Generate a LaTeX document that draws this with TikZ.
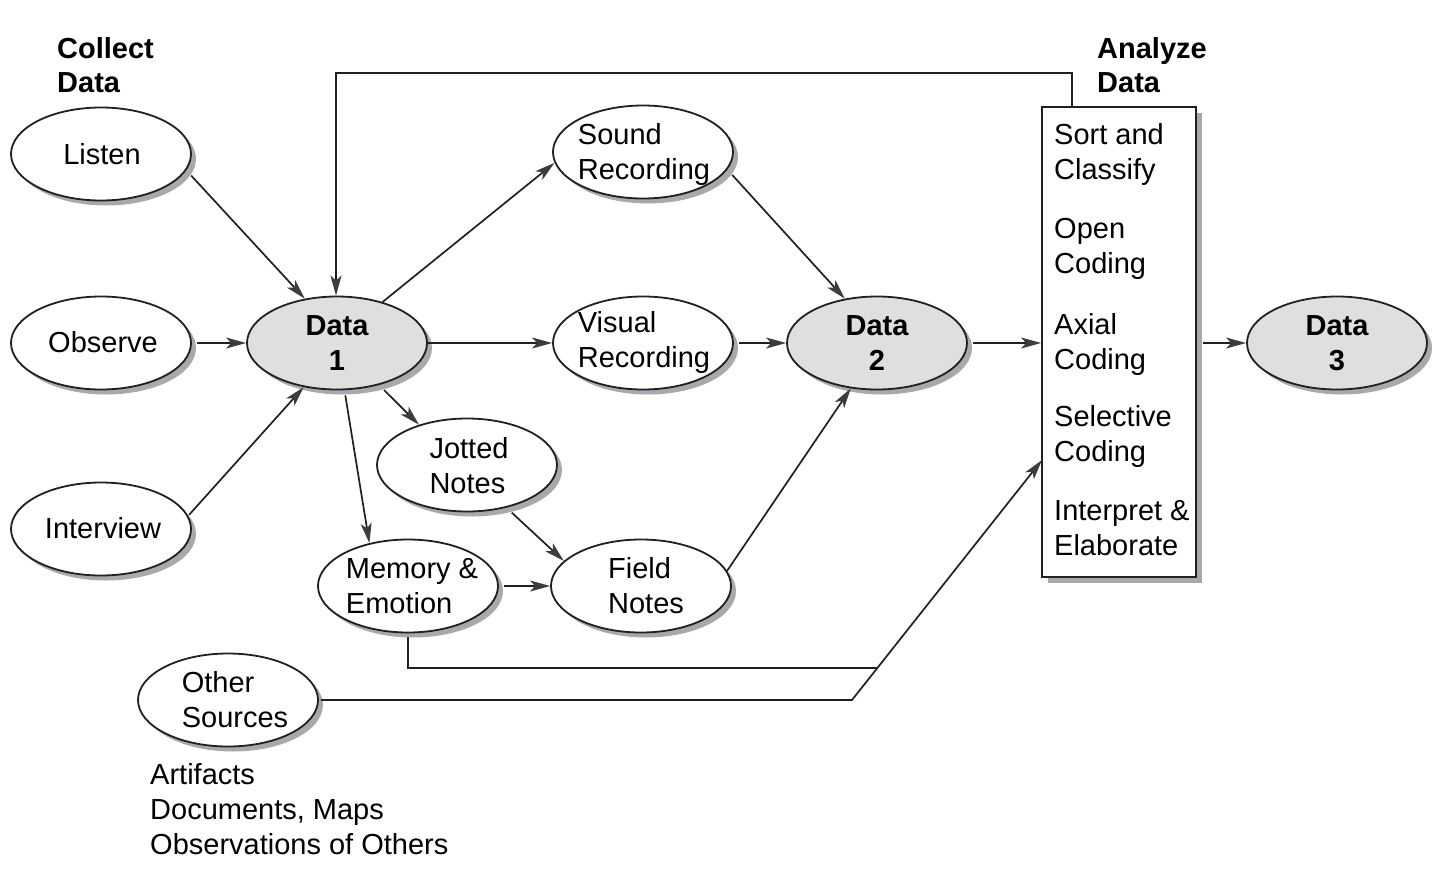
\documentclass[tikz,border=0pt]{standalone}
\usepackage{fontspec}
\setmainfont{Liberation Sans}
\usetikzlibrary{shapes.geometric,shadows,arrows.meta}
\definecolor{ink}{HTML}{231F20}
\definecolor{tipgray}{HTML}{3C3C3C}
\definecolor{shgray}{HTML}{A7A9AC}
\definecolor{datafill}{HTML}{DFDFDF}
\tikzset{
  ell/.style={ellipse, draw=ink, line width=1.8pt, fill=white, minimum width=180pt, minimum height=93pt, inner sep=0pt,
    drop shadow={shadow xshift=5pt, shadow yshift=-5pt, fill=shgray, opacity=1}},
  dataell/.style={ell, fill=datafill},
  txt/.style={inner sep=0pt, align=left, font=\fontsize{29}{35}\selectfont},
  ctxt/.style={inner sep=0pt, align=center, font=\fontsize{29}{35}\selectfont\bfseries},
  head/.style={inner sep=0pt, align=left, anchor=west, font=\fontsize{29}{34}\selectfont\bfseries},
  mytip/.tip={Stealth[length=20pt,width=11pt,inset=5pt,color=tipgray]},
  arr/.style={draw=ink, line width=1.7pt, -mytip},
  ln/.style={draw=ink, line width=1.7pt},
  loopln/.style={draw=ink, line width=2.4pt, -mytip},
  boxst/.style={rectangle, draw=ink, line width=1.8pt, fill=white, minimum width=154pt, minimum height=470pt, inner sep=0pt,
    drop shadow={shadow xshift=6pt, shadow yshift=-6pt, fill=shgray, opacity=1}},
  sh/.style={xshift=5pt, yshift=-5pt},
  shx/.style={xshift=5pt}
}
\begin{document}
\begin{tikzpicture}[x=1pt,y=-1pt]
\useasboundingbox (0,0) rectangle (1444,873);
% headings
\node[head] (hcollect) at (57,65) {Collect\\Data};
\node[head] (hanalyze) at (1097,65) {Analyze\\Data};
% left column
\node[ell] (listen) at (101,154) {};
\node[txt] at (102,154) {Listen};
\node[ell] (observe) at (101,343) {};
\node[txt] at (103,342) {Observe};
\node[ell] (interview) at (101,529) {};
\node[txt] at (103,528) {Interview};
% data 1
\node[dataell] (data1) at (337,343) {};
\node[ctxt] at (data1) {Data\\1};
% middle
\node[ell] (sound) at (643,152) {};
\node[txt] at (644,154) {Sound\\Recording};
\node[ell] (visual) at (643,343) {};
\node[txt] at (644,342) {Visual\\Recording};
\node[ell] (jotted) at (467,465) {};
\node[txt] at (469,466) {Jotted\\Notes};
\node[ell] (memory) at (408,586) {};
\node[txt] at (412,586) {Memory \&\\Emotion};
\node[ell] (field) at (641,586) {};
\node[txt] at (646,586) {Field\\Notes};
\node[ell] (other) at (228,700) {};
\node[txt] at (235,700) {Other\\Sources};
\node[txt, anchor=west] (otherlist) at (150,809) {Artifacts\\Documents, Maps\\Observations of Others};
% data 2
\node[dataell] (data2) at (877,343) {};
\node[ctxt] at (data2) {Data\\2};
% box
\node[boxst] (box) at (1119,342) {};
\node[txt, anchor=west] at (1054,154) {Sort and\\Classify};
\node[txt, anchor=west] at (1054,249) {Open\\Coding};
\node[txt, anchor=west] at (1054,344) {Axial\\Coding};
\node[txt, anchor=west] at (1054,436) {Selective\\Coding};
\node[txt, anchor=west] at (1054,528) {Interpret \&\\Elaborate};
% data 3
\node[dataell] (data3) at (1337,343) {};
\node[ctxt] at (data3) {Data\\3};
% coordinates
\coordinate (loopstart) at (1072,107);
\coordinate (looptop) at (1072,73);
\coordinate (memjoin) at (877,668);
\coordinate (otherbend) at (852,700);
\coordinate (boxin) at (1042,460);
% connectors
\draw[arr] ([sh]listen.-11) -- (data1.126);
\draw[arr] ([shx]observe.east) -- (data1.west);
\draw[arr] ([sh]interview.13) -- (data1.233);
\draw[arr] (data1.42) -- (sound.187);
\draw[arr] (data1.east) -- (visual.west);
\draw[arr] ([sh]data1.-45) -- (jotted.140);
\draw[arr] ([sh]data1.-86) -- (memory.132);
\draw[arr] ([sh]sound.-12) -- (data2.126);
\draw[arr] ([shx]visual.east) -- (data2.west);
\draw[arr] ([sh]jotted.-47) -- (field.162);
\draw[arr] ([shx]memory.east) -- (field.west);
\draw[arr] (field.10) -- (data2.240);
\draw[arr] ([shx]data2.east) -- (data2.east -| box.west);
\draw[arr] ([xshift=6pt]data3.west -| box.east) -- (data3.west);
\draw[loopln] (loopstart) -- (looptop) -| ([xshift=-1pt]data1.north);
\draw[ln] ([yshift=-4pt]memory.south) |- (memjoin);
\draw[arr] ([xshift=2pt]other.east) -- (otherbend) -- (boxin);
\end{tikzpicture}
\end{document}
